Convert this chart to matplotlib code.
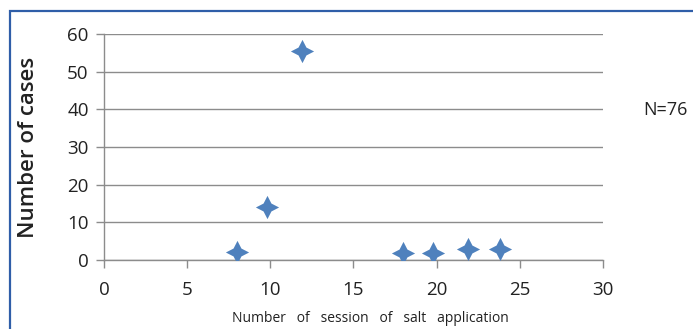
import matplotlib
matplotlib.use("Agg")
import matplotlib.pyplot as plt
from matplotlib.path import Path
from matplotlib.patches import Rectangle
import numpy as np

# data
sessions = [8, 9.8, 11.9, 18, 19.8, 21.9, 23.8]
cases = [2, 14, 55.5, 1.8, 1.8, 3, 3]
x_ticks = [0, 5, 10, 15, 20, 25, 30]
y_ticks = [0, 10, 20, 30, 40, 50, 60]

plt.rcParams['font.family'] = ['Open Sans', 'DejaVu Sans']

# four-pointed star with concave sides
ang = np.linspace(0, 2 * np.pi, 9)[:-1]
rad = np.where(np.arange(8) % 2 == 0, 1.0, 0.48)
verts = np.column_stack([rad * np.cos(ang), rad * np.sin(ang)])
verts = np.vstack([verts, verts[:1]])
star = Path(verts, [Path.MOVETO] + [Path.LINETO] * 7 + [Path.CLOSEPOLY])

fig = plt.figure(figsize=(6.93, 3.29), dpi=100)
ax = fig.add_axes([0.150, 0.2097, 0.720, 0.687])

ax.scatter(sessions, cases, marker=star, s=280, color='#4f81bd', zorder=3, linewidths=0)

ax.set_xlim(0, 30)
ax.set_ylim(0, 60)
ax.set_xticks(x_ticks)
ax.set_yticks(y_ticks)
ax.grid(axis='y', color='#8c8c8c', linewidth=1.0)
ax.set_axisbelow(True)
for s in ['top', 'right']:
    ax.spines[s].set_visible(False)
for s in ['left', 'bottom']:
    ax.spines[s].set_color('#8c8c8c')
    ax.spines[s].set_linewidth(1.0)
ax.tick_params(axis='both', colors='#8c8c8c', labelcolor='#222222', labelsize=13.5, length=6, width=1.0)
ax.tick_params(axis='x', pad=9)
ax.tick_params(axis='y', pad=5)

ax.set_ylabel('Number of cases', fontsize=16, fontweight='semibold', color='#222222', labelpad=20)
fig.text(0.535, 0.01, 'Number   of   session   of   salt   application', ha='center', va='bottom',
         fontsize=10, color='#222222')
fig.text(0.928, 0.665, 'N=76', ha='left', va='center', fontsize=13, color='#222222')

fig.patches.append(Rectangle((10 / 693, -0.05), 1.1, 1 - 11 / 329 + 0.05, transform=fig.transFigure,
                             fill=False, edgecolor='#2f5ea8', linewidth=1.6))

fig.savefig('out.png', dpi=100)
